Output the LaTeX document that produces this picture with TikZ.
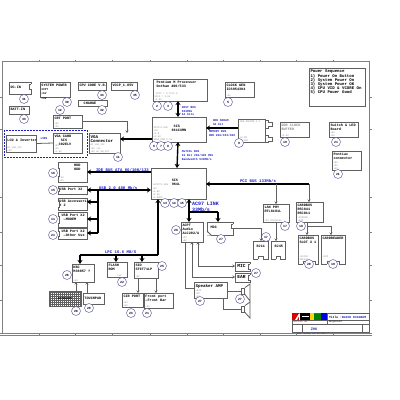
\documentclass[tikz,border=0pt]{standalone}
\usepackage{fontspec}
\setmainfont{Liberation Mono}
\usetikzlibrary{arrows.meta,calc}
\definecolor{frm}{HTML}{808080}
\definecolor{bd}{HTML}{606060}
\definecolor{gtxt}{HTML}{8A8A8A}
\definecolor{blu}{HTML}{1C1CC8}
\definecolor{cc}{HTML}{5A5AA0}
\tikzset{
 boxn/.style={draw=bd,line width=.8pt,fill=white,inner sep=0pt,outer sep=0pt},
 nobox/.style={inner sep=0pt,outer sep=0pt},
 ttl/.style={inner sep=0pt,outer sep=0pt,align=left,font=\fontsize{3.5}{4.2}\selectfont\bfseries,text=black},
 gtx/.style={inner sep=0pt,outer sep=0pt,align=left,font=\fontsize{2.4}{3.1}\selectfont,text=gtxt},
 circ/.style={circle,draw=cc,line width=.45pt,fill=white,minimum size=9pt,inner sep=0pt,font=\fontsize{3.2}{3.2}\selectfont\bfseries},
 blab/.style={inner sep=0pt,outer sep=0pt,align=left,text=blu,font=\fontsize{2.9}{3.6}\selectfont\bfseries},
 blabb/.style={inner sep=0pt,outer sep=0pt,align=left,text=blu,font=\fontsize{4}{4.6}\selectfont\bfseries},
 thk/.style={line width=1.4pt,black,{Stealth[length=4pt,width=5pt]}-},
 thkp/.style={line width=1.4pt,black},
 thkr/.style={line width=1.4pt,black,-{Stealth[length=4pt,width=5pt]}},
 thkb/.style={line width=1.4pt,black,{Stealth[length=4pt,width=5pt]}-{Stealth[length=4pt,width=5pt]}},
 gln/.style={line width=.8pt,bd},
 garr/.style={line width=.8pt,bd,-{Stealth[length=2.5pt,width=3pt]}},
 gdbl/.style={line width=.8pt,bd,{Stealth[length=2.5pt,width=3pt]}-{Stealth[length=2.5pt,width=3pt]}},
 frame/.style={line width=.8pt,frm},
}
\newcommand{\bx}[8][]{%
 \node[boxn,#1,minimum width={(#5-#3)*1pt},minimum height={(#6-#4)*1pt}] (#2) at ({(#3+#5)/2},{(#4+#6)/2}) {};
 \node[ttl,anchor=north west] (#2-t) at ({#3+1.5},{#4+2.2}) {#7};
 \node[gtx,anchor=south west] (#2-g) at ({#3+1.5},{#6-.6}) {#8};
}
\newcommand{\cn}[3]{\node[circ] (c-#1-#2) at (#1,#2) {#3};}
\newcommand{\ntR}[3]{\fill[white] ({#1-.6},#2) rectangle ({#1+.6},#3); \draw[gln] (#1,#2) -- ({#1-1.5},#2) -- ({#1-1.5},#3) -- (#1,#3);}
\newcommand{\ntL}[3]{\fill[white] ({#1-.6},#2) rectangle ({#1+.6},#3); \draw[gln] (#1,#2) -- ({#1+1.5},#2) -- ({#1+1.5},#3) -- (#1,#3);}
\newcommand{\ntB}[3]{\fill[white] (#1,{#3-.6}) rectangle (#2,{#3+.6}); \draw[gln] (#1,#3) -- (#1,{#3-3}) -- (#2,{#3-3}) -- (#2,#3);}
\begin{document}
\begin{tikzpicture}[x=1pt,y=-1pt]
\useasboundingbox (0,0) rectangle (400,400);
\fill[white] (0,0) rectangle (400,400);
% frame
\draw[frame] (2.7,333) -- (2.7,61.5) -- (369,61.5) -- (369,333);
\draw[frame] (0,333) -- (372,333);
\draw[frame,line width=.6pt] (0,335.5) -- (372,335.5);
\foreach \yy in {97,129,197,232,265,300} {\draw[frame,line width=.5pt] (0,\yy) -- (2.7,\yy); \draw[frame,line width=.5pt] (369,\yy) -- (372,\yy);}
\foreach \xx in {39,75,112,150,187,223,260,296,333} {\draw[frame,line width=.5pt] (\xx,59.5) -- (\xx,61.5); \draw[frame,line width=.5pt] (\xx,333) -- (\xx,335.5);}
% power
\bx{dcin}{9}{82}{31}{94}{\\ DC-IN}{}
\ntR{31}{84}{89}
\bx{syspow}{40}{82}{70}{97}{SYSTEM POWER\\\fontsize{2.8}{3.3}\selectfont 3VPT\\\fontsize{2.8}{3.3}\selectfont +5V\\\fontsize{2.8}{3.3}\selectfont +3V}{}
\bx{cpucore}{78}{82}{106}{90}{CPU CORE V.R.}{}
\bx{vccp}{111}{82}{137}{90}{VCCP\_1.05V}{}
\bx{charge}{78}{100}{107}{106}{\ \ CHARGE}{}
\bx{batt}{9}{106}{29}{114}{BATT-IN}{}
\cn{24}{99}{31}\cn{67}{102}{30}\cn{102}{95}{34}\cn{135}{95}{35}\cn{102}{110}{32}\cn{24}{119}{33}\cn{60}{110}{12}
% video
\draw[blu,dash pattern=on 1.8pt off 1.2pt,line width=.6pt] (4,130) rectangle (87,157);
\bx{crt}{53}{115}{82}{128}{CRT PORT}{+5V\\+3V}
\bx{vga}{53}{133}{82}{153}{VGA CARD\\\ \ \ SIS\\\ \ 302ELV}{+5V\\+3V\\+1.8V}
\bx{vgac}{89}{133}{120}{153}{\fontsize{4.2}{4.8}\selectfont VGA\\\fontsize{4.2}{4.8}\selectfont Connector}{AC\_VGA\_VCC\\+5V +3V\\+5V AC\_SB\_VCC}
\bx{lcd}{6}{135}{36}{152}{\\LCD \& Inverter}{AC\_VGA\_VCC\\+5V}
\node[blab] (lvds) at (44,139) {LVDS};
\draw[gln] (lcd.east) -- (vga.west);
\draw[garr] (crt.east) -- (127,121.5) coordinate (crtbend) -- (127,133) coordinate (crtend);
\cn{118}{157}{11}
% cpu
\bx{cpu}{153}{79}{207}{101}{\ Pentium M  Processor\\\ Dothan 400/533}{\ VCCP = 0.7V/1.5\\ VCCA = 1.5V\\ +1.5V}
\cn{157}{106}{2}\cn{168}{106}{3}
\bx{clk}{225}{82}{254}{97}{CLOCK GEN\\ICS954304}{+3V}
\cn{228}{102}{5}
\bx{nb}{152}{117}{206}{142}{}{VCCP=1.05V\\+3V\\+1.8\\+1.5V\\VDDQ\_DDR\_2.5V}
\node[ttl,align=left] (nbt) at (179,128) {\ SIS\\661CXMN};
\cn{154}{146}{6}\cn{161}{146}{7}\cn{168}{146}{8}
\draw[thkb] ([xshift=-2pt]cpu.south) -- ([xshift=-1pt]nb.north);
\draw[thk] (vgac.east |- 0,139) -- (nb.west |- 0,139);
\node[blab,anchor=north west] (hostl) at (182,106.5) {HOST BUS\\533MHz\\64 bits};
\node[blab,anchor=north west] (ddrl1) at (213,120) {DDR SDRAM\\64 bit};
\node[blab,anchor=north west] (ddrl2) at (209,131) {MEMORY BUS\\DDR 266/333/400};
\node[blab,anchor=north west] (hubl) at (182,151) {MuTIOL BUS\\16 Bit 266/400 MHz\\Bandwidth 533MB/s};
% sodimm
\draw[gln,fill=white] (265,120) -- ++(3,0) -- ++(0,2) -- ++(4,0) -- ++(0,4) -- ++(-4,0) -- ++(0,2) -- ++(-3,0);
\draw[gln,fill=white] (265,135) -- ++(3,0) -- ++(0,2) -- ++(4,0) -- ++(0,4) -- ++(-4,0) -- ++(0,1) -- ++(-3,0);
\bx{sod}{238}{119}{265}{142}{}{\fontsize{2.6}{3.4}\selectfont +2.5V\\+1.25V}
\node[gtx,anchor=north west] (sodt) at (240,120.5) {DDR SODIMM X 2};
\coordinate (nbr) at (220,128);
\draw[thk] (nb.east |- nbr) -- (sod.west |- nbr);
\cn{239}{143}{9}
% right top
\bx[line width=.6pt]{pseq}{309}{68}{365}{106}{\fontsize{4.05}{4.9}\selectfont Power Sequence\\\fontsize{4.05}{4.9}\selectfont 1) Power On Button\\\fontsize{4.05}{4.9}\selectfont 2) System Power On\\\fontsize{4.05}{4.9}\selectfont 3) System Power OK\\\fontsize{4.05}{4.9}\selectfont 4) CPU VID \& VCORE On\\\fontsize{4.05}{4.9}\selectfont 5) CPU Power Good}{}
\bx{ddrclk}{280}{122}{309}{137}{\textcolor{gtxt}{DDR CLOCK}\\\textcolor{gtxt}{BUFFER}}{+2.5V}
\cn{285}{142}{10}
\bx{sw}{329}{122}{358}{137}{Switch \& LED\\Board}{+5V\\+3V}
\cn{336}{142}{21}
\bx{pont}{332}{151}{361}{170}{Pontiac\\connector}{+5V\\+3V\\+5V}
\cn{338}{174}{21}
% south bridge
\bx{sb}{151}{168}{206}{199}{}{+VCCP=1.05V\\+3V\\+1.8V\\+1.5V\\+1.8VDD}
\node[ttl] (sbt) at (176,182) {SIS\\964L};
\cn{165}{203}{13}\cn{174}{203}{14}\cn{182}{203}{15}
\draw[thkb] ([xshift=-1pt]nb.south) -- ([xshift=-1.5pt]sb.north);
% left column
\bx{hdd}{58}{162}{87}{182}{\ \ \ \ \ \ \ HDD\\\ \ \ \ \ \ \ ODD}{+5V\\+3V}
\bx{usb1}{58}{186}{87}{194}{USB Port X2}{}
\bx{usba}{58}{198}{87}{210}{USB Accessories\\X 2}{}
\bx{usb2}{58}{212}{87}{227}{\ USB Port X2\\\ \ ---MODEM}{}
\bx{usb3}{58}{228}{87}{239}{\ USB Port X2\\\ \ ---Other Use}{}
\ntL{58}{168}{176}\ntL{58}{188.5}{191.5}\ntL{58}{201}{207}\ntL{58}{216}{223}\ntL{58}{231}{236}
\cn{53}{173}{16}\cn{53}{190}{15}\cn{53}{219}{11}\cn{53}{235}{21}
\draw[thkr] (sb.west |- hdd.east) -- (hdd.east);
\draw[thkb] (usb1.east) -- (sb.west |- usb1.east);
\coordinate (usbj) at (98,190);
\coordinate (usbe) at (98,233);
\draw[thkp] (usbj) -- (usbe);
\draw[thkr] (usbj |- 0,202) -- (usba.east |- 0,202);
\draw[thkr] (usbj |- 0,219) -- (usb2.east |- 0,219);
\draw[thkr] (usbe) -- (usb3.east |- usbe);
\node[blabb,anchor=south west] (idel) at (96,172) {IDE BUS ATA 66/100/133};
\node[blabb,anchor=south west] (usbl) at (99,189.5) {USB 2.0 480 Mb/s};
% LPC
\bx{kbc}{72}{264}{94}{282}{KBC\\M38857 ?}{+5V}
\bx{flash}{107}{262}{127}{277}{FLASH\\ROM}{\ \ \ \ \ \ +3V}
\bx{sio}{134}{262}{158}{278}{SIO\\ST9T71LP}{+5V}
\coordinate (lpcs) at (80,255);
\coordinate (lpce) at (158,255);
\draw[thkp] (lpcs) -- (lpce);
\draw[thkr] (lpce) -- (lpce |- sb.south);
\draw[thkr] (lpcs) -- (lpcs |- kbc.north);
\coordinate (lpcf) at (116,255);
\coordinate (lpcg) at (142,255);
\draw[thkr] (lpcf) -- (lpcf |- flash.north);
\draw[thkr] (lpcg) -- (lpcg |- sio.north);
\node[blabb,anchor=south west] (lpcl) at (105,254) {LPC 16.6 MB/S};
\cn{67}{275}{26}\cn{122}{282}{22}\cn{162}{266}{25}
% keyboard
\draw[bd,line width=.3pt,fill=white] (49,291) rectangle (81,306);
\draw[bd,line width=.3pt,xstep=2pt,ystep=2pt] (49,291) grid (81,306);
\node[nobox,font=\fontsize{3}{3}\selectfont\bfseries] (kb) at (65,298.5) {KEYBOARD};
\bx{tp}{83}{293}{104}{304}{\\TOUCHPAD}{}
\coordinate (kb2) at (76,291);
\coordinate (tp2) at (87,293);
\draw[garr] (kb2) -- (kb2 |- kbc.south);
\draw[garr] (tp2) -- (tp2 |- kbc.south);
\cn{76}{311}{28}\cn{89}{308}{29}
\bx{cir}{122}{293}{143}{307}{CIR PORT}{+5V\\+3V}
\bx{front}{144}{293}{173}{308}{Front port\\---Front Bar}{+5V}
\coordinate (s1) at (138,278);
\coordinate (s2) at (156,278);
\draw[garr] (s1) -- (s1 |- cir.north);
\draw[garr] (s2) -- (s2 |- front.north);
\cn{131}{313}{23}\cn{147}{313}{21}
% PCI
\coordinate (pcie) at (309,184);
\draw[thk] (sb.east |- pcie) -- (pcie);
\node[blabb,anchor=south west] (pcil) at (240,183) {PCI BUS 133Mb/s};
\node[blabb,anchor=west,font=\fontsize{5}{5.6}\selectfont\bfseries] (acl) at (192,207) {AC97 LINK\\33Mb/s};
% audio
\bx{codec}{181}{222}{203}{242}{ACPT\\Audio\\ALC202/A}{+3V\\+5V}
\bx{mdc}{207}{222}{233}{235}{\\\ MDC}{}
\ntR{233}{224}{228}
\fill[white] (206,235.6) -- (206,231) -- (211,235.6) -- cycle;
\draw[gln] (207,231) -- (211,235);
\cn{176}{230}{26}\cn{221}{239}{27}
\coordinate (acj) at (189,212);
\coordinate (ack) at (218,212);
\draw[thkp] (acj) -- (ack);
\draw[thkb] (acj |- sb.south) -- (acj |- codec.north);
\draw[thkr] (ack) -- (ack |- mdc.north);
\bx{rj11}{253}{241}{268}{259}{\\\ RJ11}{}
\bx{rj45}{271}{241}{285}{259}{\\\ RJ45}{}
\ntB{258}{263}{259}\ntB{276}{280}{259}
\cn{266}{237}{17}
\coordinate (mb) at (261,228);
\draw[garr] (mdc.east |- mb) -- (mb) -- (mb |- rj11.north);
\bx{lan}{263}{204}{289}{222}{LAN PHY\\RTL8101L}{+3V RTL8101L}
\bx{card}{296}{202}{323}{222}{CARDBUS\\R5C841\\R5C811}{+3VMAIN\\+5VM}
\cn{285}{226}{17}\cn{301}{226}{18}
\coordinate (lx) at (276,184);
\draw[garr] (lan.south -| lx) -- (rj45.north -| lx);
\draw[garr] (lx) -- (lx |- lan.north);
\draw[garr] (pcie) -- (pcie |- card.north);
\bx{slot}{298}{235}{318}{264}{CARDBUS\\SLOT X 1}{+3VCCA\\VPP1CA\\ }
\bx{rdr}{321}{235}{345}{264}{CARDREADER}{+3VP\\ \\ }
\ntB{303}{315}{264}\ntB{327}{339}{264}
\coordinate (cj) at (307,226);
\coordinate (ck) at (331,226);
\draw[garr] (card.south -| cj) -- (slot.north -| cj);
\draw[gln] (cj) -- (ck);
\draw[garr] (ck) -- (ck |- rdr.north);
\cn{309}{264}{20}\cn{333}{264}{19}
% audio out
\bx{mic}{235}{262}{250}{271}{\fontsize{4.6}{5}\selectfont\,MIC}{}
\bx{ear}{235}{273}{250}{282}{\fontsize{4.6}{5}\selectfont\,EAR}{}
\ntR{250}{264}{269}\ntR{250}{275}{280}
\bx{amp}{194}{282}{227}{298}{\fontsize{4.2}{5}\selectfont Speaker AMP}{+5VP\\+3V\\+5V}
\coordinate (a1) at (198,266);
\coordinate (a2) at (192,277);
\coordinate (a3) at (185,288);
\draw[gdbl] (a1 |- codec.south) -- (a1) -- (mic.west |- a1);
\draw[gdbl] (a2 |- codec.south) -- (a2) -- (ear.west |- a2);
\draw[gln] (a3 |- codec.south) -- (a3) -- (amp.west |- a3);
\cn{256}{273}{27}\cn{200}{301}{27}
\node[draw=bd,line width=.8pt,fill=white,inner sep=0pt,minimum width=3pt,minimum height=6pt] (spk1) at (243,291) {};
\node[draw=bd,line width=.8pt,fill=white,inner sep=0pt,minimum width=3pt,minimum height=6pt] (spk2) at (243,309) {};
\draw[bd,line width=.8pt] (spk1.north east) -- (250,284) -- (250,301) -- (spk1.south east);
\draw[bd,line width=.8pt] (spk2.north east) -- (250,302) -- (250,318) -- (spk2.south east);
\draw[gln] (amp.east |- spk1.west) -- (spk1.west);
\coordinate (a6) at (223,309);
\draw[gln] (a6 |- amp.south) -- (a6) -- (spk2.west);
\cn{240}{299}{27}
% title block
\draw[bd,line width=.5pt] (292,313) rectangle (369,332);
\fill[red!85!black] (292,313) rectangle (299,320);
\fill[white] (295,320) -- (299,313.5) -- (300.5,313.5) -- (297,320) -- cycle;
\fill[black] (300,313) rectangle (310,320);
\fill[white] (301.5,315.5) rectangle (308.5,317);
\fill[yellow!75!orange] (310,313) rectangle (314,320);
\fill[green!50!black] (314,313.5) rectangle (321,320);
\fill[blue!90!black] (321,313) rectangle (327,320);
\node[ttl,anchor=west,font=\fontsize{3.1}{4}\selectfont\bfseries] (ti) at (329,317) {Title :\textcolor{blu}{ BLOCK DIAGRAM}};
\draw[bd,line width=.4pt] (292,320) -- (369,320);
\draw[bd,line width=.4pt] (292,324) -- (369,324);
\draw[bd,line width=.4pt] (327,313) -- (327,324);
\node[gtx,anchor=west,text=black,font=\fontsize{2.8}{3}\selectfont] (eng) at (329,322) {Engineer};
\node[gtx,anchor=west,text=red!80!black,font=\fontsize{2}{2.4}\selectfont] (co) at (293,322.3) {COMPUTER INC.};
\draw[bd,line width=.4pt] (302,324) -- (302,332);
\draw[bd,line width=.4pt] (362,324) -- (362,332);
\node[blab,font=\fontsize{3.6}{4}\selectfont\bfseries] (docn) at (314,329) {Z96};
\node[gtx,anchor=west,font=\fontsize{1.8}{2.2}\selectfont,text=blu] (dt) at (297,334.4) {Date: Monday, Dec 20, 2004};
\end{tikzpicture}
\end{document}
